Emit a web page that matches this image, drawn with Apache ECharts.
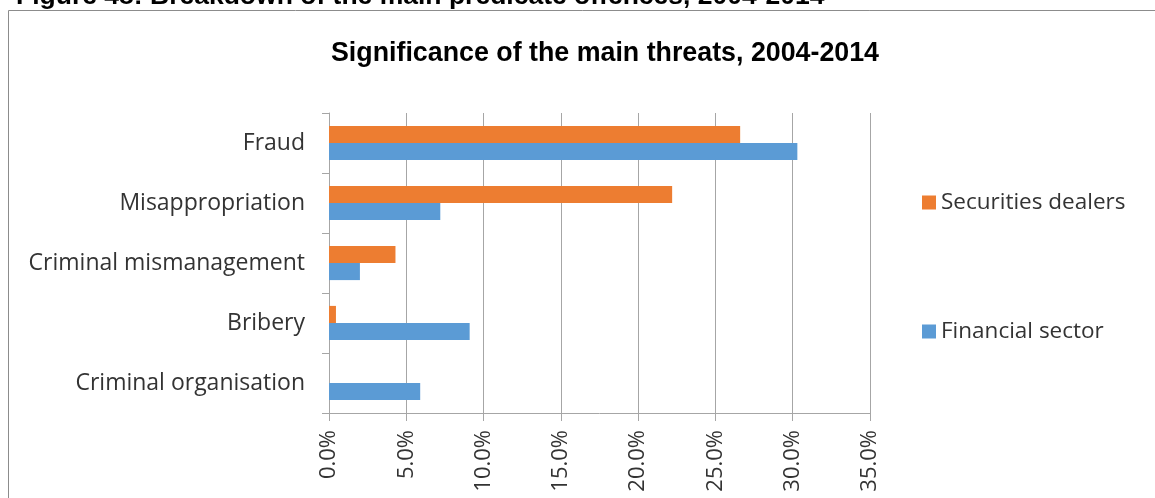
<!DOCTYPE html>
<html><head><meta charset="utf-8">
<script src="https://cdn.jsdelivr.net/npm/echarts@6/dist/echarts.min.js"></script>
<style>html,body{margin:0;padding:0;background:#fff}#c{width:1155px;height:498px}</style>
</head><body><div id="c"></div>
<script>
const categories = ['Fraud', 'Misappropriation', 'Criminal mismanagement', 'Bribery', 'Criminal organisation'];
const securitiesDealers = [26.6, 22.2, 4.3, 0.45, 0];
const financialSector = [30.3, 7.2, 2.0, 9.1, 5.9];
const seriesNames = ['Securities dealers', 'Financial sector'];
const xTicks = {min: 0, max: 35, interval: 5};

const chart = echarts.init(document.getElementById('c'));
const lblFont = '"Open Sans", sans-serif';
chart.setOption({
  animation: false,
  color: ['#ED7D31', '#5B9BD5'],
  title: {
    text: 'Significance of the main threats, 2004-2014',
    left: 600, top: 35, textAlign: 'center',
    textStyle: {fontFamily: '"Liberation Sans", Arial, sans-serif', fontSize: 26.8, fontWeight: 'bold', color: '#000'}
  },
  graphic: [
    {type: 'rect', shape: {x: 8.5, y: 10.5, width: 1160, height: 500}, style: {fill: 'none', stroke: '#8c8c8c', lineWidth: 1}, z: -1},
    {type: 'text', x: 16, y: 10, style: {text: 'Figure 48: Breakdown of the main predicate offences, 2004-2014', font: 'bold 26.5px "Liberation Sans", Arial, sans-serif', fill: '#000', verticalAlign: 'bottom'}}
  ],
  legend: {
    orient: 'vertical', left: 917, top: 186, itemGap: 106,
    icon: 'rect', itemWidth: 14, itemHeight: 14,
    data: seriesNames,
    textStyle: {fontFamily: lblFont, fontSize: 22.5, color: '#333333'}
  },
  grid: {left: 329, right: 285, top: 113, bottom: 85},
  xAxis: {
    type: 'value', min: xTicks.min, max: xTicks.max, interval: xTicks.interval,
    axisLine: {show: true, lineStyle: {color: '#a6a6a6'}},
    axisTick: {show: true, length: 8, lineStyle: {color: '#a6a6a6'}},
    splitLine: {lineStyle: {color: '#a6a6a6'}},
    axisLabel: {rotate: 90, margin: 17, formatter: v => v.toFixed(1) + '%', fontFamily: lblFont, fontSize: 22, color: '#333333'}
  },
  yAxis: {
    type: 'category', data: categories, inverse: true,
    axisLine: {show: true, lineStyle: {color: '#a6a6a6'}},
    axisTick: {show: true, length: 7, lineStyle: {color: '#a6a6a6'}},
    axisLabel: {margin: 24, fontFamily: lblFont, fontSize: 23, color: '#333333'}
  },
  series: [
    {name: seriesNames[0], type: 'bar', data: securitiesDealers, barGap: '0%', barCategoryGap: '43%'},
    {name: seriesNames[1], type: 'bar', data: financialSector, barGap: '0%', barCategoryGap: '43%'}
  ]
});
</script></body></html>
